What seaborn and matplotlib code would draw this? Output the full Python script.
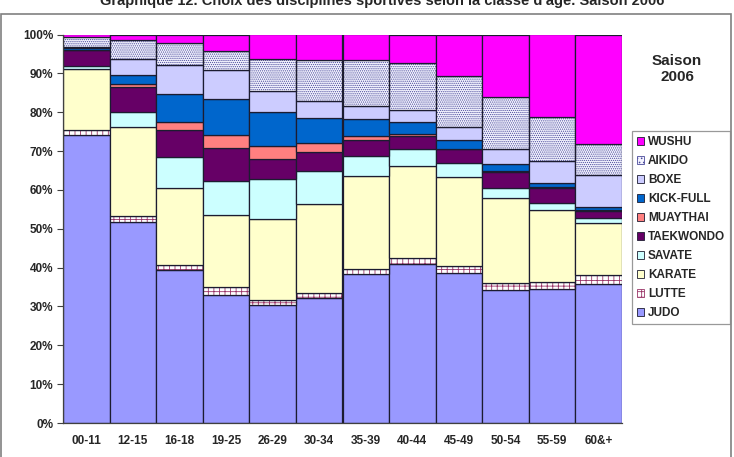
import numpy as np
import matplotlib
matplotlib.use('Agg')
import matplotlib.pyplot as plt
import seaborn as sns
from matplotlib.patches import Patch, Rectangle
from matplotlib.ticker import PercentFormatter

# Data: share (%) of each discipline per age class
ages = ['00-11', '12-15', '16-18', '19-25', '26-29', '30-34',
        '35-39', '40-44', '45-49', '50-54', '55-59', '60&+']

judo = [74.2, 51.7, 39.4, 33.0, 30.4, 32.1, 38.4, 41.0, 38.6, 34.3, 34.5, 35.7]
lutte = [1.3, 1.7, 1.3, 2.0, 1.3, 1.3, 1.3, 1.4, 1.9, 1.7, 1.9, 2.4]
karate = [15.7, 22.7, 19.9, 18.6, 20.8, 23.0, 23.8, 23.7, 22.7, 21.9, 18.5, 13.5]
savate = [0.9, 4.0, 7.9, 8.8, 10.3, 8.4, 5.1, 4.3, 3.6, 2.6, 1.7, 1.2]
taekwondo = [3.9, 6.5, 6.8, 8.4, 5.2, 4.9, 4.3, 3.6, 3.6, 4.0, 3.9, 1.8]
muaythai = [0.1, 0.7, 2.2, 3.4, 3.4, 2.4, 1.1, 0.4, 0.2, 0.3, 0.3, 0.1]
kickfull = [0.5, 2.2, 7.3, 9.2, 8.6, 6.4, 4.3, 3.2, 2.2, 1.9, 1.1, 1.0]
boxe = [0.3, 4.1, 7.3, 7.4, 5.4, 4.3, 3.2, 2.9, 3.3, 3.9, 5.6, 8.2]
aikido = [2.6, 4.9, 5.6, 4.9, 8.3, 10.6, 11.9, 12.2, 13.2, 13.3, 11.3, 8.0]
wushu = [0.6, 1.5, 2.3, 4.3, 6.3, 6.6, 6.6, 7.3, 10.7, 16.1, 21.2, 28.1]

disciplines = ['JUDO', 'LUTTE', 'KARATE', 'SAVATE', 'TAEKWONDO',
               'MUAYTHAI', 'KICK-FULL', 'BOXE', 'AIKIDO', 'WUSHU']
series = [judo, lutte, karate, savate, taekwondo,
          muaythai, kickfull, boxe, aikido, wushu]

# styles: (facecolor, hatch, hatch colour)
styles = {
    'JUDO': ('#9999FF', None, None),
    'LUTTE': ('#FFFFFF', '+++', '#993366'),
    'KARATE': ('#FFFFCC', None, None),
    'SAVATE': ('#CCFFFF', None, None),
    'TAEKWONDO': ('#660066', None, None),
    'MUAYTHAI': ('#FF8080', None, None),
    'KICK-FULL': ('#0066CC', None, None),
    'BOXE': ('#CCCCFF', None, None),
    'AIKIDO': ('#F4F4FF', '........', '#4A4A9A'),
    'WUSHU': ('#FF00FF', None, None),
}

values = np.array(series, dtype=float)
shares = values / values.sum(axis=0)  # 100% stacked

sns.set_style('white')
plt.rcParams['font.family'] = ['Liberation Sans', 'DejaVu Sans']
plt.rcParams['hatch.linewidth'] = 0.6

fig = plt.figure(figsize=(7.34, 4.57), dpi=100)
ax = fig.add_axes([63 / 734, 1 - 423 / 457, (622 - 63) / 734, (423 - 34.5) / 457])

edge = '#1c1c30'
bottom = np.zeros(len(ages))
for name, vals in zip(disciplines, shares):
    fc, hatch, hc = styles[name]
    if hatch:
        sns.barplot(x=ages, y=vals, bottom=bottom, width=1.0, color=fc,
                    saturation=1, hatch=hatch, edgecolor=hc, linewidth=0,
                    ax=ax, errorbar=None)
        # outline on top of the hatched fill
        sns.barplot(x=ages, y=vals, bottom=bottom, width=1.0, color=edge,
                    saturation=1, facecolor='none', edgecolor=edge,
                    linewidth=0.9, ax=ax, errorbar=None)
    else:
        sns.barplot(x=ages, y=vals, bottom=bottom, width=1.0, color=fc,
                    saturation=1, edgecolor=edge, linewidth=0.9,
                    ax=ax, errorbar=None)
    bottom = bottom + vals

ax.set_xlim(-0.5, len(ages) - 0.5)
ax.set_ylim(0, 1)
ax.set_yticks(np.arange(0, 1.01, 0.1))
ax.yaxis.set_major_formatter(PercentFormatter(1.0, decimals=0))
ax.set_xlabel('')
ax.set_ylabel('')
ax.set_xticks(range(len(ages)))
ax.set_xticklabels(ages, fontweight='bold', fontsize=8.5)
ax.set_xticks(np.arange(-0.5, len(ages), 1), minor=True)
ax.tick_params(axis='x', which='major', length=0, pad=9)
ax.tick_params(axis='x', which='minor', length=4, width=0.8, color='#404040', direction='out')
ax.tick_params(axis='y', length=4, width=0.8, color='#404040', direction='out',
               left=True, pad=3, labelsize=8.5)
for lab in ax.get_yticklabels():
    lab.set_fontweight('bold')
for side in ['top', 'right']:
    ax.spines[side].set_visible(False)
for side in ['left', 'bottom']:
    ax.spines[side].set_color('#404040')
    ax.spines[side].set_linewidth(0.9)

# chart border
fig.patches.append(Rectangle((1 / 734, -0.05), 730 / 734, 1.05 - 14 / 457,
                             transform=fig.transFigure, fill=False,
                             edgecolor='#808080', linewidth=1.2))

fig.text(382 / 734, 1 - 5.5 / 457,
         "Graphique 12. Choix des disciplines sportives selon la classe d'âge. Saison 2006",
         ha='center', va='baseline', fontsize=10.5, fontweight='bold')

fig.text(677 / 734, 1 - 69 / 457, 'Saison\n2006', ha='center', va='center',
         fontsize=11, fontweight='bold', linespacing=1.25)

handles = []
for name in disciplines[::-1]:
    fc, hatch, hc = styles[name]
    if hatch:
        handles.append(Patch(facecolor=fc, hatch=hatch[:4], edgecolor=hc, linewidth=0.6))
    else:
        handles.append(Patch(facecolor=fc, edgecolor=edge, linewidth=0.6))
leg = fig.legend(handles, disciplines[::-1], loc='upper left',
                 bbox_to_anchor=(632 / 734, 1 - 131 / 457),
                 prop={'weight': 'bold', 'size': 8.5},
                 frameon=True, fancybox=False, edgecolor='#808080',
                 handlelength=0.65, handleheight=0.65, handletextpad=0.3,
                 labelspacing=0.6, borderpad=0.4, borderaxespad=0)
leg.get_frame().set_linewidth(0.9)

fig.savefig('out.png', dpi=100)
